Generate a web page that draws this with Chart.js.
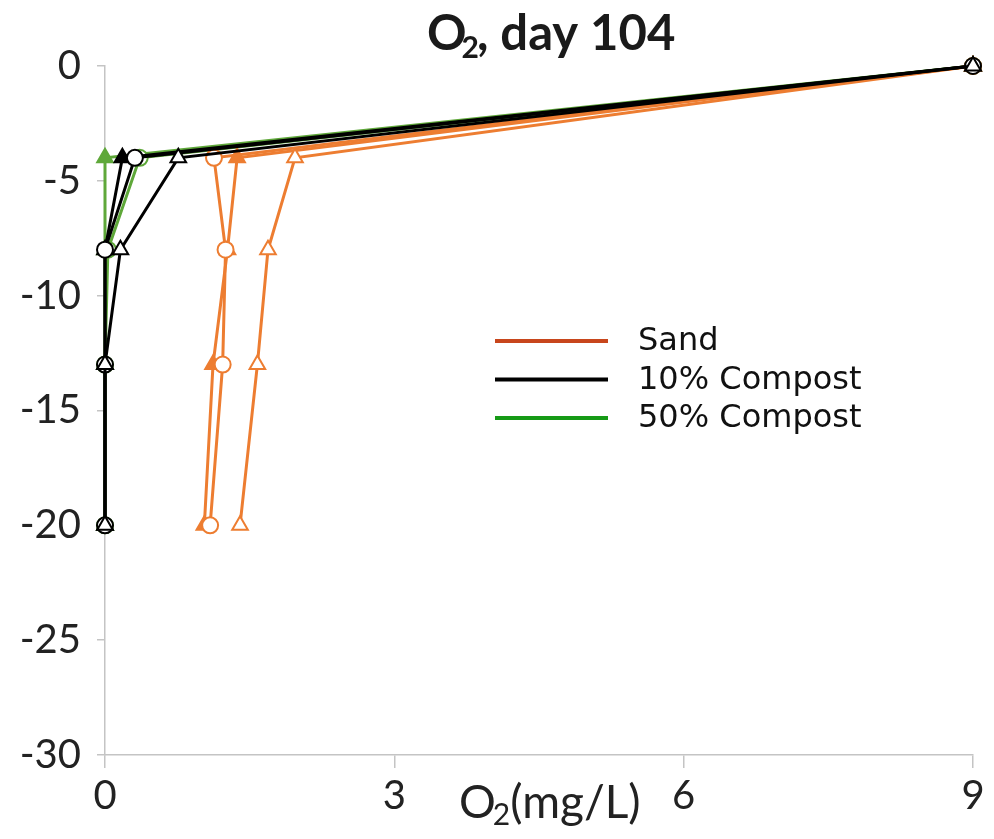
<!DOCTYPE html>
<html>
<head>
<meta charset="utf-8">
<script src="https://cdn.jsdelivr.net/npm/chart.js@4.4.0/dist/chart.umd.min.js"></script>
<style>
  html, body { margin: 0; padding: 0; background: #fff; }
  #wrap { width: 994px; height: 839px; position: relative; }
</style>
</head>
<body>
<div id="wrap"><canvas id="o2"></canvas></div>
<script>
// depth of each sampling point (cm)
var depths = [0, -4, -8, -13, -20];

// O2 (mg/L) per replicate, same order as depths
var sandA = [9, 1.13, 1.25, 1.22, 1.09];
var sandB = [9, 1.37, 1.27, 1.12, 1.03];
var sandC = [9, 1.97, 1.69, 1.58, 1.40];
var comp10A = [9, 0.31, 0.0, 0.0, 0.0];
var comp10B = [9, 0.76, 0.16, 0.0, 0.0];
var comp10C = [9, 0.18, 0.0, 0.0, 0.0];
var comp50A = [9, 0.0, 0.0, 0.0, 0.0];
var comp50B = [9, 0.36, 0.03, 0.0, 0.0];

var xTicks = [0, 3, 6, 9];
var yTicks = [0, -5, -10, -15, -20, -25, -30];

var legendNames = ['Sand', '10% Compost', '50% Compost'];
var legendColors = ['#c8461c', '#000000', '#169a16'];

var orange = '#ed7d31';
var green = '#5fa83a';

function pts(vals) {
    return vals.map(function (v, i) { return { x: v, y: depths[i] }; });
}

function series(vals, color, shape, filled) {
    return {
        data: pts(vals),
        borderColor: color,
        backgroundColor: color,
        borderWidth: 3,
        pointStyle: shape,
        pointRadius: shape == 'triangle' ? 9 : 8,
        pointBorderWidth: 2,
        pointBackgroundColor: filled ? color : '#ffffff',
        pointBorderColor: color,
        showLine: true,
        clip: false
    };
}

var titlePlugin = {
    id: 'texts',
    afterDraw: function (chart) {
        var c = chart.ctx;
        c.save();
        c.fillStyle = '#1a1a1a';
        c.textBaseline = 'alphabetic';
        c.textAlign = 'left';

        // chart title: O2, day 104
        var x = 427, y = 50;
        c.font = 'bold 49px Lato';
        c.fillText('O', x, y);
        x += c.measureText('O').width - 5;
        c.font = 'bold 30px Lato';
        c.fillText('2', x, y + 8);
        x += c.measureText('2').width - 2;
        c.font = 'bold 49px Lato';
        c.fillText(', day 104', x, y);

        // x axis title: O2(mg/L)
        c.fillStyle = '#222222';
        x = 459; y = 818;
        c.font = '46px Lato';
        c.fillText('O', x, y);
        x += c.measureText('O').width - 3;
        c.font = '30px Lato';
        c.fillText('2', x, y + 7);
        x += c.measureText('2').width;
        c.font = '46px Lato';
        c.fillText('(mg/L)', x, y);

        // legend
        c.font = '32px "DejaVu Sans"';
        c.textBaseline = 'middle';
        for (var i = 0; i < legendNames.length; i++) {
            var ly = 341 + i * 38.5;
            c.strokeStyle = legendColors[i];
            c.lineWidth = 4;
            c.beginPath();
            c.moveTo(495, ly);
            c.lineTo(608, ly);
            c.stroke();
            c.fillStyle = '#111111';
            c.fillText(legendNames[i], 638, ly + 1);
        }
        c.restore();
    }
};

var ctx = document.getElementById('o2').getContext('2d');
var chart = new Chart(ctx, {
    type: 'scatter',
    data: {
        // first dataset ends up on top
        datasets: [
            series(comp10B, '#000000', 'triangle', false),
            series(comp10A, '#000000', 'circle', false),
            series(comp10C, '#000000', 'triangle', true),
            series(sandC, orange, 'triangle', false),
            series(sandA, orange, 'circle', false),
            series(sandB, orange, 'triangle', true),
            series(comp50B, green, 'circle', false),
            series(comp50A, green, 'triangle', true)
        ]
    },
    options: {
        responsive: true,
        maintainAspectRatio: false,
        animation: false,
        layout: { padding: { top: 66, right: 21, left: 0, bottom: 0 } },
        plugins: {
            legend: { display: false },
            title: { display: false },
            tooltip: { enabled: false }
        },
        scales: {
            x: {
                type: 'linear',
                min: 0,
                max: 9,
                afterBuildTicks: function (s) { s.ticks = xTicks.map(function (v) { return { value: v }; }); },
                afterFit: function (s) { s.height = 84; },
                border: { color: '#c4c4c4', width: 1.5 },
                grid: { drawOnChartArea: false, tickLength: 13, color: '#c4c4c4', lineWidth: 1.5 },
                ticks: { color: '#222', font: { family: 'Lato', size: 40 }, padding: 4, maxRotation: 0 }
            },
            y: {
                type: 'linear',
                min: -30,
                max: 0,
                afterBuildTicks: function (s) { s.ticks = yTicks.map(function (v) { return { value: v }; }); },
                afterFit: function (s) { s.width = 105; },
                border: { color: '#c4c4c4', width: 1.5 },
                grid: { drawOnChartArea: false, tickLength: 8, color: '#c4c4c4', lineWidth: 1.5 },
                ticks: { color: '#222', font: { family: 'Lato', size: 40 }, padding: 16 }
            }
        }
    },
    plugins: [titlePlugin]
});
</script>
</body>
</html>
